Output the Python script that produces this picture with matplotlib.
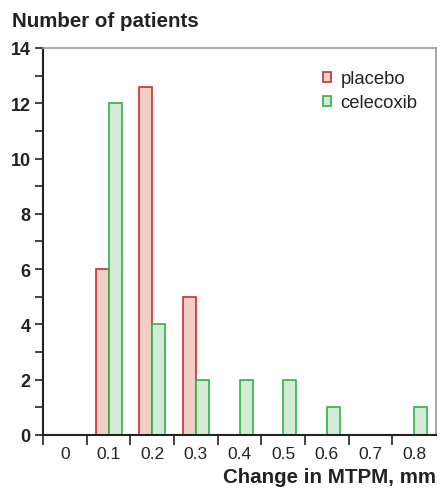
import matplotlib.pyplot as plt
import numpy as np
from matplotlib.patches import Patch

plt.rcParams["font.family"] = ["Liberation Sans", "DejaVu Sans"]

categories = ["0", "0.1", "0.2", "0.3", "0.4", "0.5", "0.6", "0.7", "0.8"]
placebo = [0, 6, 12.6, 5, 0, 0, 0, 0, 0]
celecoxib = [0, 12, 4, 2, 2, 2, 1, 0, 1]

PLACEBO_EDGE = "#c9302c"
PLACEBO_FILL = "#f0d0c5"
CELE_EDGE = "#2db34a"
CELE_FILL = "#d4ead4"
TEXT = "#222222"

fig = plt.figure(figsize=(4.4, 4.89), dpi=100)
ax = fig.add_axes([0.098, 0.1084, 0.893, 0.7914])

x = np.arange(len(categories))
width = 0.3
for xi, p, c in zip(x, placebo, celecoxib):
    if p > 0:
        ax.bar(xi - width / 2, p, width, color=PLACEBO_FILL, edgecolor=PLACEBO_EDGE, linewidth=1.2)
    if c > 0:
        ax.bar(xi + width / 2, c, width, color=CELE_FILL, edgecolor=CELE_EDGE, linewidth=1.2)

ax.set_xlim(-0.5, len(categories) - 0.5)
ax.set_ylim(0, 14)

# y axis: labelled even ticks, unlabelled odd ticks
ax.set_yticks(np.arange(0, 15, 2))
ax.set_yticks(np.arange(1, 14, 2), minor=True)
ax.tick_params(axis="y", which="both", direction="out", length=6, width=1.2, color=TEXT)
ax.tick_params(axis="y", labelsize=13, pad=3, labelcolor=TEXT)
for lbl in ax.get_yticklabels():
    lbl.set_fontweight("bold")

# x axis: ticks at the category boundaries, labels in the middle
ax.set_xticks(np.arange(-0.5, len(categories) - 1, 1.0))
ax.set_xticklabels([])
ax.set_xticks(x, minor=True)
ax.set_xticklabels(categories, minor=True, fontsize=12.5, color=TEXT)
ax.tick_params(axis="x", which="major", direction="out", length=7, width=1.2, color=TEXT)
ax.tick_params(axis="x", which="minor", length=0, pad=8)

for side in ("left", "bottom"):
    ax.spines[side].set_color(TEXT)
    ax.spines[side].set_linewidth(1.5)
for side in ("top", "right"):
    ax.spines[side].set_color("#9a9a9a")
    ax.spines[side].set_linewidth(1.2)

fig.text(0.028, 0.957, "Number of patients", fontsize=14.8, fontweight="bold",
         color=TEXT, ha="left", va="center")
fig.text(0.991, 0.024, "Change in MTPM, mm", fontsize=14.8, fontweight="bold",
         color=TEXT, ha="right", va="center")

handles = [
    Patch(facecolor=PLACEBO_FILL, edgecolor=PLACEBO_EDGE, linewidth=1.2, label="placebo"),
    Patch(facecolor=CELE_FILL, edgecolor=CELE_EDGE, linewidth=1.2, label="celecoxib"),
]
ax.legend(handles=handles, loc="upper right", bbox_to_anchor=(0.995, 0.985), frameon=False,
          fontsize=13.3, handlelength=0.45, handleheight=0.45, handletextpad=0.5,
          labelspacing=0.38, labelcolor=TEXT)

fig.savefig("out.png", dpi=100)
